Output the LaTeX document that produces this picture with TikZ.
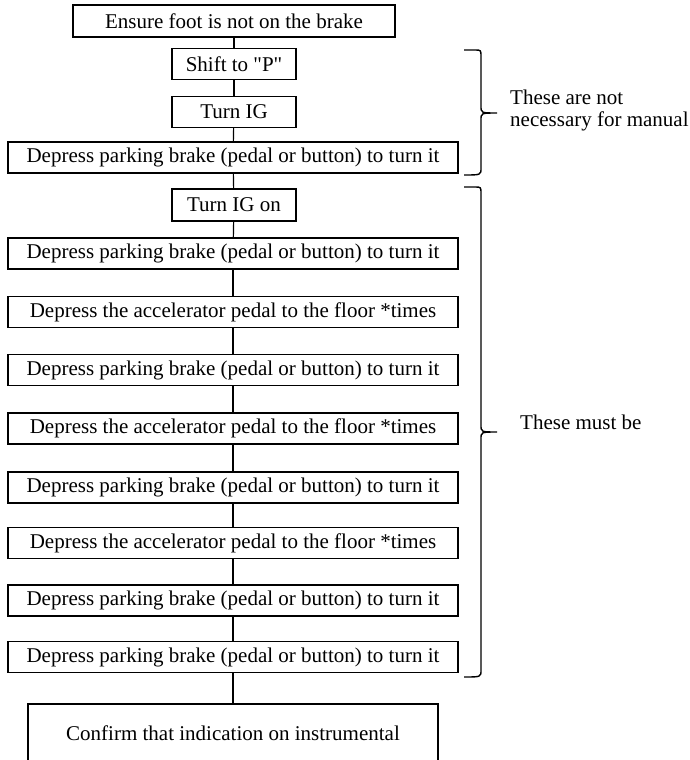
\documentclass[tikz,border=0pt]{standalone}
\usepackage{fontspec}
\setmainfont{Liberation Serif}
\usepackage{tikz}

\begin{document}
\begin{tikzpicture}[x=1pt, y=-1pt,
		stepbox/.style={rectangle, draw, line width=1.2pt, minimum height=31pt, inner sep=0pt, font=\fontsize{21}{23}\selectfont},
		widebox/.style={stepbox, minimum width=450pt},
		smallbox/.style={stepbox, minimum width=124pt},
		brace/.style={line width=1.4pt},
		note/.style={anchor=west, align=left, inner sep=0pt, font=\fontsize{21}{22}\selectfont}]
		\useasboundingbox (0,0) rectangle (690,760);
		\clip (0,0) rectangle (690,760);

		% Start
		\node (ensure) at (234,21) [stepbox, minimum width=322pt, minimum height=32pt] {Ensure foot is not on the brake};

		% Steps not needed for a manual car
		\node (shift) at (234,64) [smallbox] {Shift to \textquotedbl P\textquotedbl};
		\node (turnig) at (234,112) [smallbox] {Turn IG};
		\node (depressA) at (233,157.5) [widebox] {Depress parking brake (pedal or button) to turn it};

		% Steps that must be done
		\node (turnigon) at (234,205) [smallbox, minimum height=32pt] {Turn IG on};
		\node (depressB) at (233,253.5) [widebox] {Depress parking brake (pedal or button) to turn it};
		\node (accelA) at (233,312) [widebox] {Depress the accelerator pedal to the floor *times};
		\node (depressC) at (233,370) [widebox] {Depress parking brake (pedal or button) to turn it};
		\node (accelB) at (233,428.5) [widebox] {Depress the accelerator pedal to the floor *times};
		\node (depressD) at (233,487.5) [widebox] {Depress parking brake (pedal or button) to turn it};
		\node (accelC) at (233,543) [widebox] {Depress the accelerator pedal to the floor *times};
		\node (depressE) at (233,600.5) [widebox] {Depress parking brake (pedal or button) to turn it};
		\node (depressF) at (233,657) [widebox] {Depress parking brake (pedal or button) to turn it};

		% End
		\node (confirm) at (233,733) [stepbox, minimum width=410pt, minimum height=58pt] {Confirm that indication on instrumental};

		% Connections between the steps
		\foreach \a/\b in {ensure/shift, shift/turnig, turnig/depressA, depressA/turnigon, turnigon/depressB, depressB/accelA, accelA/depressC, depressC/accelB, accelB/depressD, depressD/accelC, accelC/depressE, depressE/depressF, depressF/confirm}
			\draw [line width=1.2pt] (\a) -- (\b);

		% Braces and their notes
		\draw [brace] (464,50) -- (475,50) .. controls (481,50) .. (481,57) -- (481,106) .. controls (481,113) .. (497,113) .. controls (481,113) .. (481,120) -- (481,168) .. controls (481,175) .. (464,175);
		\node (optional) at (510,110) [note] {These are not\\necessary for manual};

		\draw [brace] (464,187) -- (475,187) .. controls (481,187) .. (481,194) -- (481,425) .. controls (481,432) .. (497,432) .. controls (481,432) .. (481,439) -- (481,670) .. controls (481,677) .. (464,677);
		\node (needed) at (520,422) [note] {These must be};
    \end{tikzpicture}
\end{document}
